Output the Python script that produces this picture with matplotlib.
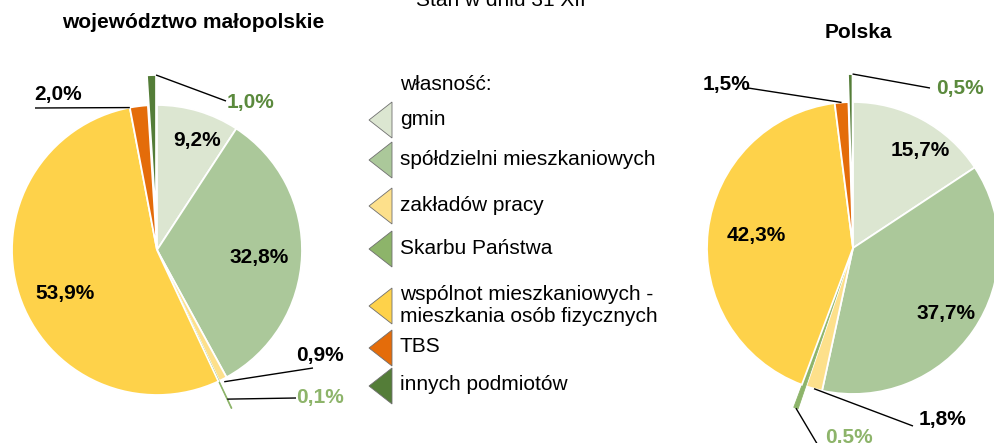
import numpy as np
import matplotlib.pyplot as plt
from matplotlib.patches import Polygon

plt.rcParams['font.family'] = ['Liberation Sans', 'DejaVu Sans']

W, H = 995, 443

# dane - struktura mieszkań wg własności (%)
kategorie = ['gmin', 'spółdzielni mieszkaniowych', 'zakładów pracy', 'Skarbu Państwa',
             'wspólnot mieszkaniowych -\nmieszkania osób fizycznych', 'TBS', 'innych podmiotów']
malopolskie = [9.2, 32.8, 0.9, 0.1, 53.9, 2.0, 1.0]
polska = [15.7, 37.7, 1.8, 0.5, 42.3, 1.5, 0.5]
tytuly = ['województwo małopolskie', 'Polska']

kolory = ['#dce6d1', '#abc89a', '#fde08b', '#8db46a', '#fed24a', '#e46c0a', '#547d38']
kolory_etykiet = ['black', 'black', 'black', '#8db46a', 'black', 'black', '#5b8a3d']


def px(x, y):
    # piksele (y w dół) -> dane
    return x, H - y


def etykieta(v):
    return f'{v:.1f}%'.replace('.', ',')


fig = plt.figure(figsize=(W / 100, H / 100), dpi=100)
ax = fig.add_axes([0, 0, 1, 1])

# układ obu wykresów
uklad = [
    dict(dane=malopolskie, srodek=(157, 250), r=145, explode=[0, 0, 0, 30, 0, 0, 30],
         tytul=(193, 22),
         pozycje=[(197, 140), (259, 258), (320, 355), (320, 398), (65, 294), (58, 94), (251, 102)],
         # (indeks, ułamek kąta w wycinku, ułamek promienia, punkt końcowy)
         linie=[(6, 1.0, 1.0, (226, 101)), (5, 0.0, 1.0, (35, 108)),
                (2, 0.5, 1.02, (313, 368)), (3, 0.5, 0.93, (296, 398))]),
    dict(dane=polska, srodek=(853, 248), r=146, explode=[0, 0, 0, 24, 0, 0, 28],
         tytul=(858, 32),
         pozycje=[(920, 150), (946, 313), (943, 420), (849, 438), (756, 235), (727, 84), (960, 88)],
         linie=[(6, 1.0, 1.0, (930, 88)), (5, 0.5, 1.0, (748, 88)),
                (2, 0.5, 1.0, (913, 426)), (3, 0.5, 1.0, (822, 452))]),
]

for u in uklad:
    dane = np.array(u['dane'], dtype=float)
    cx, cy = px(*u['srodek'])
    wedges, _ = ax.pie(dane, colors=kolory, startangle=90, counterclock=False,
                       center=(cx, cy), radius=u['r'], explode=u['explode'],
                       wedgeprops=dict(edgecolor='white', linewidth=1.3))
    wedges[3].set_edgecolor(kolory[3])
    wedges[3].set_linewidth(0.6)

    frac = dane / dane.sum()
    cum = np.concatenate([[0], np.cumsum(frac)])
    for i, (x, y) in enumerate(u['pozycje']):
        ax.text(*px(x, y), etykieta(dane[i]), ha='center', va='center',
                fontsize=15, fontweight='bold', color=kolory_etykiet[i])

    for i, fa, fr, koniec in u['linie']:
        mid = np.deg2rad(360 * (cum[i] + cum[i + 1]) / 2)
        th = np.deg2rad(360 * (cum[i] + fa * frac[i]))
        e = u['explode'][i]
        x0 = cx + e * np.sin(mid) + u['r'] * fr * np.sin(th)
        y0 = cy + e * np.cos(mid) + u['r'] * fr * np.cos(th)
        x1, y1 = px(*koniec)
        ax.plot([x0, x1], [y0, y1], color='black', lw=1.0, solid_capstyle='butt')

    ax.text(*px(*u['tytul']), tytuly[uklad.index(u)], ha='center', va='center',
            fontsize=15, fontweight='bold')

# legenda
ax.text(*px(400, 84), 'własność:', ha='left', va='center', fontsize=15)
leg_y = [119, 159, 205, 248, 305, 347, 385]
for k, (nazwa, yc) in enumerate(zip(kategorie, leg_y)):
    tri = Polygon([px(369, yc + 1), px(392, yc - 18 + 1), px(392, yc + 18 + 1)],
                  closed=True, facecolor=kolory[k], edgecolor='#6f6f6f', lw=0.6)
    ax.add_patch(tri)
    ax.text(*px(400, yc), nazwa, ha='left', va='center', fontsize=15, linespacing=1.2)

ax.text(*px(501, 6), 'Stan w dniu 31 XII', ha='center', va='baseline', fontsize=15)

ax.set_xlim(0, W)
ax.set_ylim(0, H)
ax.set_aspect('auto')
ax.axis('off')

fig.savefig('out.png', dpi=100)
